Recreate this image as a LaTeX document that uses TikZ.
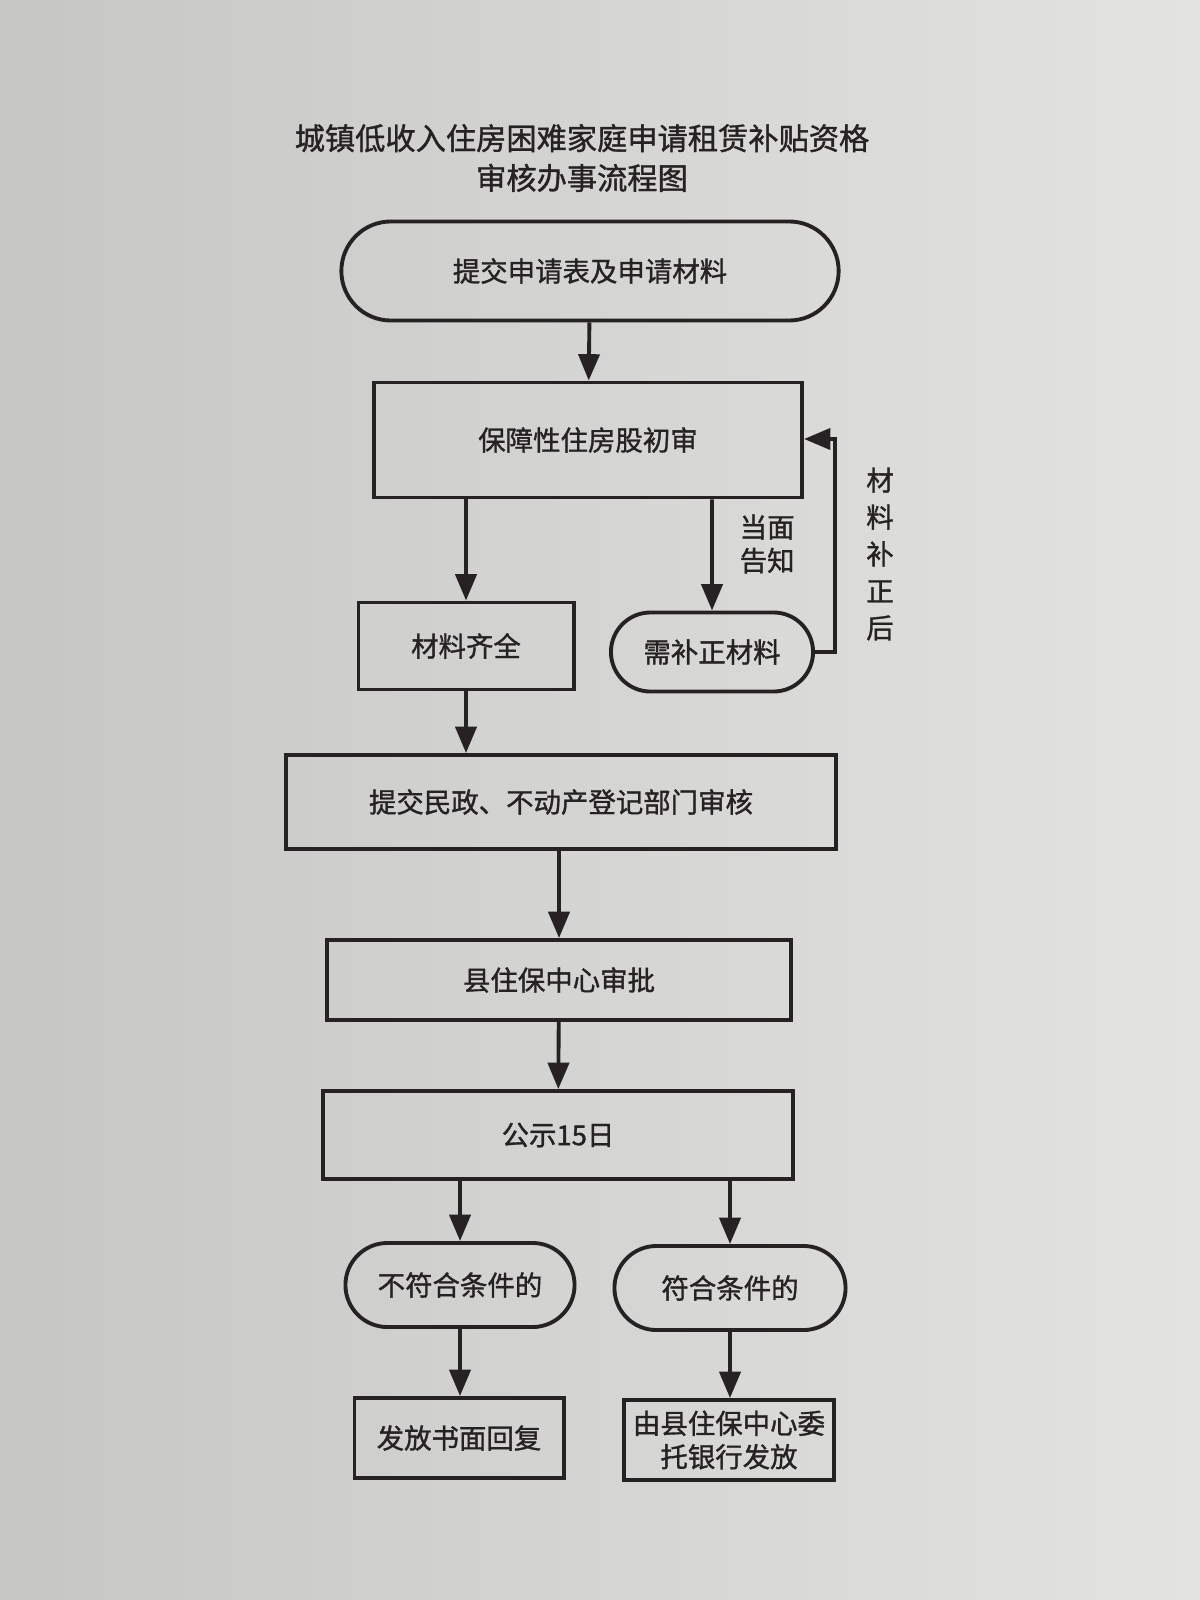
\documentclass[tikz,border=0pt]{standalone}
\usepackage{fontspec}
\setmainfont{Noto Sans CJK SC}[FakeBold=1.2]
\usepackage{xcolor}
\usepackage{tikz}
\usetikzlibrary{arrows.meta,shapes.misc}

\definecolor{paperL}{RGB}{198,199,197}
\definecolor{paperR}{RGB}{227,228,224}
\definecolor{ink}{RGB}{38,33,35}

\begin{document}
\begin{tikzpicture}[x=0.01cm,y=-0.01cm,
    box/.style={draw=ink, line width=1.1pt, rectangle, inner sep=0pt, text=ink,
        align=center, font=\fontsize{7.8}{9.5}\selectfont},
    term/.style={box, rounded rectangle},
    flow/.style={draw=ink, line width=1.1pt, -{Triangle[width=6pt,length=7.5pt]}},
    lbl/.style={text=ink, align=center, font=\fontsize{7.8}{9.5}\selectfont}]
        \shade[left color=paperL, right color=paperR] (0,0) rectangle (1200,1600);
        \useasboundingbox (0,0) rectangle (1200,1600);

        \node[lbl, font=\fontsize{8.6}{11.3}\selectfont] (title) at (582,158)
            {城镇低收入住房困难家庭申请租赁补贴资格\\审核办事流程图};

        \node[term, minimum width=4.97cm, minimum height=0.99cm] (submit) at (590,271) {提交申请表及申请材料};
        \node[box, minimum width=4.28cm, minimum height=1.15cm] (first) at (588,440) {保障性住房股初审};
        \node[box, minimum width=2.15cm, minimum height=0.87cm] (complete) at (466,646) {材料齐全};
        \node[term, minimum width=2.02cm, minimum height=0.79cm] (supply) at (712,652) {需补正材料};
        \node[box, minimum width=5.50cm, minimum height=0.94cm] (report) at (561,802) {提交民政、不动产登记部门审核};
        \node[box, minimum width=4.63cm, minimum height=0.80cm] (approve) at (559,980) {县住保中心审批};
        \node[box, minimum width=4.70cm, minimum height=0.88cm] (publicity) at (558,1135) {公示15日};
        \node[term, minimum width=2.29cm, minimum height=0.84cm] (reject) at (460,1285) {不符合条件的};
        \node[term, minimum width=2.31cm, minimum height=0.84cm] (accept) at (730,1288) {符合条件的};
        \node[box, minimum width=2.09cm, minimum height=0.80cm] (reply) at (459,1438) {发放书面回复};
        \node[box, minimum width=2.10cm, minimum height=0.80cm] (bank) at (729,1440) {由县住保中心委\\托银行发放};

        \coordinate (back) at (835,439);
        \node[lbl, font=\fontsize{7.8}{10.5}\selectfont] (after) at (880,554) {材\\料\\补\\正\\后};

        \draw[flow] (submit) -- (first);
        \draw[flow] (complete |- first.south) -- (complete);
        \draw[flow] (supply |- first.south) -- node[lbl, right=4pt, pos=0.4] {当面\\告知} (supply);
        \draw[flow] (supply.east) -| (back) -- (first.east |- back);
        \draw[flow] (complete) -- (complete |- report.north);
        \draw[flow] (report.south -| approve) -- (approve);
        \draw[flow] (approve) -- (publicity);
        \draw[flow] (reject |- publicity.south) -- (reject);
        \draw[flow] (accept |- publicity.south) -- (accept);
        \draw[flow] (reject) -- (reject |- reply.north);
        \draw[flow] (accept) -- (accept |- bank.north);
    \end{tikzpicture}
\end{document}
